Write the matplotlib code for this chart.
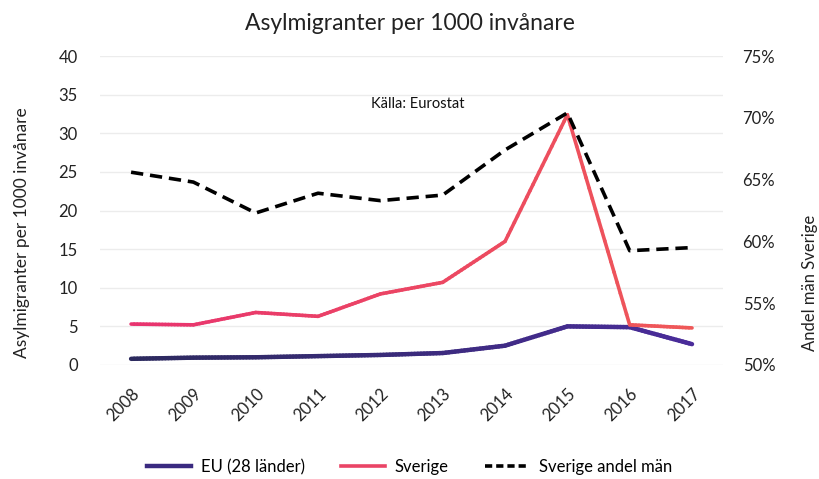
import matplotlib
matplotlib.use("Agg")
import matplotlib.pyplot as plt
import numpy as np
from matplotlib.collections import LineCollection
from matplotlib.colors import LinearSegmentedColormap
from matplotlib.lines import Line2D
from matplotlib.ticker import FuncFormatter

plt.rcParams['font.family'] = ['Lato', 'DejaVu Sans']

years = ['2008', '2009', '2010', '2011', '2012', '2013', '2014', '2015', '2016', '2017']
eu = [0.8, 0.95, 1.0, 1.15, 1.3, 1.55, 2.5, 5.0, 4.9, 2.7]
sverige = [5.3, 5.2, 6.8, 6.3, 9.2, 10.7, 16.0, 32.4, 5.2, 4.8]
andel_man = [65.6, 64.8, 62.3, 63.9, 63.3, 63.75, 67.4, 70.4, 59.25, 59.5]

fig = plt.figure(figsize=(8.19, 4.79), dpi=100)
ax = fig.add_axes([0.122, 0.238, 0.761, 0.645])
ax2 = ax.twinx()

x = np.arange(len(years))

def grad_line(axis, xs, ys, c1, c2, lw, n=20):
    cmap = LinearSegmentedColormap.from_list('g', [c1, c2])
    segs, cols = [], []
    for i in range(len(xs) - 1):
        for k in range(n):
            t0, t1 = k / n, (k + 1) / n
            xa = xs[i] + (xs[i + 1] - xs[i]) * t0
            xb = xs[i] + (xs[i + 1] - xs[i]) * t1
            ya = ys[i] + (ys[i + 1] - ys[i]) * t0
            yb = ys[i] + (ys[i + 1] - ys[i]) * t1
            segs.append([(xa, ya), (xb, yb)])
            cols.append(cmap(((xa + xb) / 2) / (len(xs) - 1)))
    lc = LineCollection(segs, colors=cols, linewidths=lw, capstyle='round', joinstyle='round', zorder=3)
    axis.add_collection(lc)

grad_line(ax, x, eu, '#2c2a5e', '#4a2c9a', 3.2)
grad_line(ax, x, sverige, '#e8336f', '#ef5858', 2.6)

ax2.plot(x, andel_man, color='black', lw=2.6, dashes=(3.4, 1.9), zorder=4)

ax.set_xlim(-0.5, 9.5)
ax.set_ylim(0, 40)
ax.set_yticks(np.arange(0, 41, 5))
ax2.set_ylim(50, 75)
ax2.set_yticks(np.arange(50, 76, 5))
ax2.yaxis.set_major_formatter(FuncFormatter(lambda v, p: f"{int(v)}%"))

ax.set_xticks(x)
ax.set_xticklabels(years, rotation=45, ha='right', rotation_mode='anchor')
ax.grid(axis='y', color='#ececec', lw=1)
ax.set_axisbelow(True)
for a in (ax, ax2):
    for s in a.spines.values():
        s.set_visible(False)
    a.tick_params(length=0, labelsize=12, colors='#222222')
ax.tick_params(axis='y', pad=16)
ax2.tick_params(axis='y', pad=14)
ax.tick_params(axis='x', pad=15)

ax.set_ylabel('Asylmigranter per 1000 invånare', fontsize=12.5, color='#222222')
ax.yaxis.set_label_coords(-0.112, 0.43)
fig.text(810 / 819, 1 - 283 / 479, 'Andel män Sverige', rotation=90, ha='center', va='center',
         fontsize=12, color='#222222')

fig.suptitle('Asylmigranter per 1000 invånare', fontsize=16.5, y=0.972, color='#222222')
ax.text(4.6, 33.8, 'Källa: Eurostat', fontsize=10.5, ha='center', va='center', color='#111111')

handles = [
    Line2D([], [], color='#3a2a80', lw=3.2),
    Line2D([], [], color='#ea4466', lw=2.6),
    Line2D([], [], color='black', lw=2.6, dashes=(2.0, 1.1)),
]
fig.legend(handles, ['EU (28 länder)', 'Sverige', 'Sverige andel män'], loc='center',
           bbox_to_anchor=(0.5, 0.025), ncol=3, frameon=False, fontsize=12,
           handlelength=2.6, columnspacing=2.2, handletextpad=0.6)

fig.savefig('out.png', dpi=100)
